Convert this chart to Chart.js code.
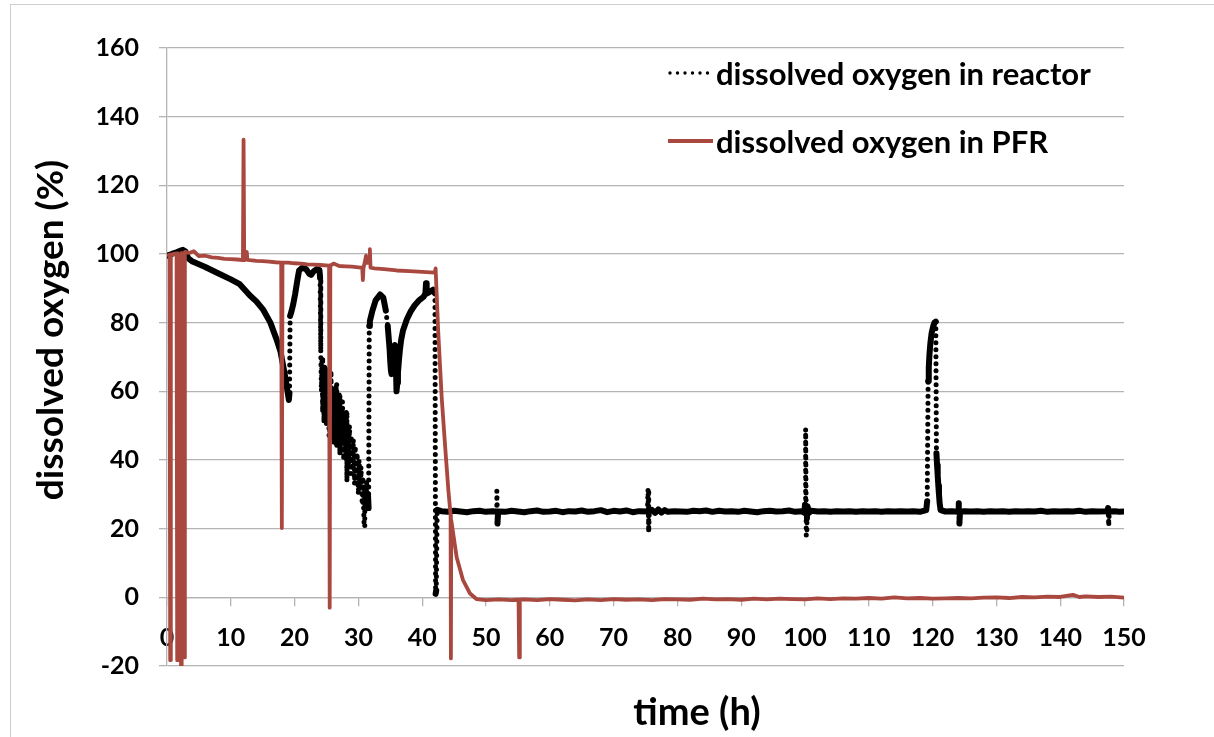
<!DOCTYPE html>
<html>
<head>
<meta charset="utf-8">
<script src="https://cdn.jsdelivr.net/npm/chart.js@4.4.1/dist/chart.umd.min.js"></script>
<style>
  html, body { margin: 0; padding: 0; background: #fff; }
  #wrap { position: relative; width: 1214px; height: 737px; overflow: hidden; }
  #frame {
    position: absolute; left: 10px; top: 4px; right: -2px; bottom: -2px;
    border-left: 1px solid #cfcfcf; border-top: 1px solid #cfcfcf;
    pointer-events: none;
  }
</style>
</head>
<body>
<div id="wrap">
  <canvas id="chart" width="1214" height="737"></canvas>
  <div id="frame"></div>
</div>
<script>
// dissolved oxygen in the reactor (%), time in h
const reactorTime = [
  0, 0.5, 1.0, 1.5, 2.0, 2.5, 2.9, 3.3, 4.0, 6.0,
  8.0, 10.0, 11.4, 13.0, 14.0, 15.1, 16.2, 17.2, 17.8, 18.2,
  18.5, 18.8, 19.1, 19.2, 19.3, 19.5, 19.8, 20.1, 20.4, 20.7,
  21.2, 21.8, 22.3, 22.6, 23.0, 23.5, 23.9, 24.0, 24.1, 24.2,
  24.3, 24.4, 24.5, 24.6, 24.7, 24.8, 24.9, 25.0, 25.1, 25.2,
  25.3, 25.4, 25.5, 25.6, 25.7, 25.8, 25.9, 26.0, 26.1, 26.2,
  26.3, 26.4, 26.5, 26.6, 26.8, 26.9, 27.0, 27.1, 27.3, 27.4,
  27.5, 27.7, 27.8, 28.0, 28.1, 28.2, 28.3, 28.5, 28.6, 28.8,
  28.9, 29.1, 29.2, 29.4, 29.5, 29.7, 29.8, 30.0, 30.1, 30.3,
  30.4, 30.6, 30.7, 30.9, 31.0, 31.1, 31.3, 31.4, 31.5, 31.6,
  31.7, 31.8, 32.2, 32.7, 33.4, 33.9, 34.3, 34.6, 34.75, 34.9,
  35.0, 35.1, 35.2, 35.35, 35.5, 35.7, 35.8, 35.9, 35.95, 36.0,
  36.1, 36.2, 36.35, 36.5, 36.7, 37.0, 37.6, 38.2, 38.8, 39.5,
  40.2, 40.5, 40.6, 40.7, 41.2, 41.7, 42.0, 42.1, 42.2, 42.35,
  43, 44, 45, 46, 47, 48, 49, 50, 51, 51.6,
  51.7, 51.8, 51.9, 53, 54, 55, 56, 57, 58, 59,
  60, 61, 62, 63, 64, 65, 66, 67, 68, 69,
  70, 71, 72, 73, 74, 75.3, 75.4, 75.5, 75.6, 76,
  76.5, 77, 77.5, 78, 78.5, 79.5, 80.5, 81.5, 82.5, 83.5,
  84.5, 85.5, 86.5, 87.5, 88.5, 89.5, 90.5, 91.5, 92.5, 93.5,
  94.5, 95.5, 96.5, 97.5, 98.5, 99.5, 99.9, 100.0, 100.1, 100.2,
  100.3, 100.4, 100.6, 101, 102, 103, 104, 105, 106, 107,
  108, 109, 110, 111, 112, 113, 114, 115, 116, 117,
  118, 119.0, 119.15, 119.3, 119.4, 119.5, 119.65, 119.85, 120.1, 120.3,
  120.5, 120.6, 120.7, 120.8, 120.9, 121.0, 121.1, 121.25, 122, 123,
  124.0, 124.1, 124.2, 124.3, 125, 126, 127, 128, 129, 130,
  131, 132, 133, 134, 135, 136, 137, 138, 139, 140,
  141, 142, 143, 144, 145, 146, 147.4, 147.5, 147.6, 147.7,
  148.5, 149.3, 150
];
const reactorDO = [
  99.5, 99.8, 100.2, 100.5, 100.9, 101.2, 100.7, 98.8, 97.8, 96.2,
  94.4, 92.6, 91.2, 87.9, 86.2, 83.7, 80.0, 75.0, 71.5, 67.5,
  64.5, 61.0, 57.5, 59.5, 82.0, 83.2, 85.5, 88.5, 92.0, 95.2,
  96.0, 95.6, 94.2, 93.9, 95.0, 95.6, 95.3, 93.0, 72, 60,
  70, 54, 66, 51, 68, 56, 64, 50, 67, 55,
  62, 47, 63, 52, 66, 46, 58, 50, 61, 45,
  57, 49, 62, 44, 56, 47, 59, 42, 55, 45,
  57, 40, 52, 43, 54, 34, 49, 39, 50, 36,
  47, 38, 46, 33, 44, 35, 42, 30, 40, 32,
  38, 27, 35, 20.5, 31, 26, 34, 27, 30, 26,
  79, 80.5, 83.5, 86.5, 88.2, 87.3, 83.5, 79, 75.5, 72,
  68.5, 66, 65, 68, 71, 73.5, 70, 66, 63, 60,
  62.5, 65.5, 69, 72, 75, 77.8, 81, 83.3, 85, 86.5,
  87.5, 88.5, 91.5, 88.5, 89, 89.6, 88.5, 1, 2, 25.5,
  25.1, 24.9, 25.2, 25.0, 24.8, 25.1, 25.2, 24.9, 25.1, 25.0,
  31, 21.5, 25, 24.9, 25.2, 25.0, 24.8, 25.1, 25.3, 24.9,
  25.0, 25.2, 24.8, 25.1, 25.0, 25.3, 24.9, 25.1, 25.4, 24.8,
  25.2, 25.0, 25.3, 24.8, 25.1, 25.0, 31.5, 19, 25, 25.5,
  24.6, 25.6, 24.7, 25.4, 24.9, 25.1, 25.0, 24.9, 25.2, 25.1,
  25.3, 24.9, 25.2, 25.0, 25.1, 24.9, 25.2, 25.0, 24.8, 25.1,
  25.2, 25.0, 25.1, 25.3, 24.9, 25.1, 24.6, 27, 49, 18,
  23, 26.5, 24.6, 25.2, 25.0, 25.1, 24.9, 25.1, 25.0, 25.1,
  24.9, 25.1, 25.0, 25.1, 24.9, 25.1, 25.0, 25.1, 25.0, 25.1,
  24.9, 25.4, 28, 63, 67, 70.5, 74, 77, 79, 80,
  80.3, 42, 38.5, 35.5, 32.5, 30, 27.5, 25.4, 25.0, 25.1,
  24.9, 27.4, 21.5, 25, 25.1, 25.0, 25.1, 24.9, 25.1, 25.0,
  25.1, 24.9, 25.1, 25.0, 25.1, 25.0, 25.2, 24.9, 25.1, 25.0,
  25.1, 25.0, 25.2, 24.9, 25.1, 25.0, 25.1, 26, 20.8, 25,
  25.1, 24.9, 25.0
];

// dissolved oxygen in the PFR (%)
const pfrTime = [
  0, 0.4, 0.5, 0.6, 1.5, 1.6, 1.7, 2.1, 2.2, 2.3, 2.6, 2.7, 2.8, 3.5, 4.2, 5, 6, 7, 8, 9, 10, 11, 11.9, 12.0,
  12.1, 12.4, 12.5, 12.6, 13, 14, 15, 16, 17, 17.9, 18.0, 18.1, 19, 20, 21, 22, 23, 24, 25.4, 25.5, 25.6, 26.1,
  27, 28, 29, 30, 30.6, 30.7, 30.8, 31.0, 31.2, 31.4, 31.7, 31.8, 31.9, 32.5, 34, 36, 38, 40, 42.0, 42.1, 42.5,
  43.05, 43.6, 44.1, 44.45, 44.5, 44.55, 45.4, 46.4, 47.5, 48.5, 50, 52, 54, 55.1, 55.2, 55.3, 56, 58, 60, 62,
  64, 66, 68, 70, 72, 74, 76, 78, 80, 82, 84, 86, 88, 90, 92, 94, 96, 98, 100, 102, 104, 106, 108, 110, 112,
  114, 116, 118, 120, 122, 124, 126, 128, 130, 132, 134, 136, 138, 140, 142, 143, 144, 146, 148, 150
];
const pfrDO = [
  99.4, 99.8, -18.3, 99.8, 100.2, -18.3, 100.2, 99.6, -20, 100.3, 99.8, -17.5, 100.6, 100.3, 100.8, 99.4, 99.5, 99.0, 98.9, 98.6, 98.5, 98.4, 98.2, 133.3,
  98.2, 98.4, 100.6, 98.3, 98.2, 98.0, 97.9, 97.8, 97.6, 97.5, 20.2, 97.5, 97.5, 97.3, 97.2, 97.0, 96.9, 96.8, 96.6, -3, 96.6, 97.2,
  96.5, 96.4, 96.3, 96.1, 96.0, 92.4, 96.0, 97.6, 99.5, 97.4, 98.0, 101.4, 96.0, 95.8, 95.6, 95.2, 95.0, 94.8, 94.6, 95.8, 77.8,
  58.4, 43.8, 31.2, 24, -17.8, 22.5, 11.7, 5.0, 1.1, -0.5, -0.8, -0.6, -0.8, -0.7, -17.5, -0.7, -0.6, -0.8, -0.5, -0.7,
  -0.9, -0.6, -0.8, -0.5, -0.7, -0.6, -0.8, -0.5, -0.6, -0.7, -0.4, -0.6, -0.5, -0.7, -0.4, -0.6, -0.4, -0.5, -0.6, -0.3, -0.5, -0.3, -0.4, -0.2, -0.4,
  0, -0.3, -0.2, -0.4, -0.3, -0.2, -0.3, -0.1, 0, -0.2, 0.1, 0, 0.2, 0.1, 0.7, 0.1, 0.3, 0.1, 0.2, -0.1
];

const xTicks = [0, 10, 20, 30, 40, 50, 60, 70, 80, 90, 100, 110, 120, 130, 140, 150];
const yTicks = [-20, 0, 20, 40, 60, 80, 100, 120, 140, 160];

const seriesNames = ["dissolved oxygen in reactor", "dissolved oxygen in PFR"];
const xTitle = "time (h)";
const yTitle = "dissolved oxygen (%)";

const BLACK = "#000000";
const RED = "#a8483f";
const GRID = "#b4b4b4";

const toPoints = (xs, ys) => xs.map((x, i) => ({ x: x, y: ys[i] }));

// long steep jumps between samples show up as separate dots
const isJump = ctx => {
  const dx = Math.abs(ctx.p1.x - ctx.p0.x);
  const dy = Math.abs(ctx.p1.y - ctx.p0.y);
  return dy > 14 && dy > 5 * dx;
};

Chart.defaults.font.family = "Lato, 'Open Sans', sans-serif";
Chart.defaults.font.weight = "bold";
Chart.defaults.color = "#000";

// legend inside the plot and the two axis titles
const annotations = {
  id: "annotations",
  afterDraw(chart) {
    const ctx = chart.ctx;
    ctx.save();
    ctx.fillStyle = "#000";

    ctx.font = "bold 31px Lato";
    ctx.textAlign = "left";
    ctx.textBaseline = "alphabetic";

    ctx.strokeStyle = BLACK;
    ctx.lineWidth = 3.4;
    ctx.lineCap = "round";
    ctx.setLineDash([0, 7.5]);
    ctx.beginPath();
    ctx.moveTo(670, 73);
    ctx.lineTo(712, 73);
    ctx.stroke();
    ctx.fillText(seriesNames[0], 716, 85);

    ctx.setLineDash([]);
    ctx.lineCap = "butt";
    ctx.strokeStyle = RED;
    ctx.lineWidth = 3.8;
    ctx.beginPath();
    ctx.moveTo(668, 141);
    ctx.lineTo(713, 141);
    ctx.stroke();
    ctx.fillText(seriesNames[1], 716, 153);

    ctx.font = "bold 38px Lato";
    ctx.textAlign = "center";
    ctx.fillText(xTitle, 697, 725);

    ctx.translate(63, 330);
    ctx.rotate(-Math.PI / 2);
    ctx.font = "bold 37px Lato";
    ctx.fillText(yTitle, 0, 0);
    ctx.restore();
  }
};

const chart = new Chart(document.getElementById("chart"), {
  type: "line",
  data: {
    datasets: [
      {
        label: seriesNames[0],
        data: toPoints(reactorTime, reactorDO),
        borderColor: BLACK,
        borderWidth: 6,
        borderCapStyle: "round",
        borderJoinStyle: "round",
        pointRadius: 0,
        tension: 0,
        order: 1,
        segment: {
          borderDash: ctx => (isJump(ctx) ? [0, 7] : undefined),
          borderWidth: ctx => (isJump(ctx) ? 5 : undefined)
        }
      },
      {
        label: seriesNames[1],
        data: toPoints(pfrTime, pfrDO),
        borderColor: RED,
        borderWidth: 3.8,
        borderJoinStyle: "round",
        pointRadius: 0,
        tension: 0,
        order: 0
      }
    ]
  },
  options: {
    responsive: false,
    animation: false,
    devicePixelRatio: 1,
    layout: { padding: { left: 0, top: 48, right: 90, bottom: 71 } },
    plugins: {
      legend: { display: false },
      tooltip: { enabled: false },
      title: { display: false }
    },
    scales: {
      x: {
        type: "linear",
        position: { y: 0 },
        min: 0,
        max: 150,
        afterBuildTicks: axis => { axis.ticks = xTicks.map(v => ({ value: v })); },
        afterFit: axis => { axis.height = 0; },
        grid: { drawOnChartArea: false, drawTicks: true, tickLength: 8, color: GRID, lineWidth: 1.3 },
        border: { display: true, color: GRID, width: 1.3 },
        ticks: { font: { size: 25, weight: "bold" }, padding: 18, maxRotation: 0, autoSkip: false }
      },
      y: {
        type: "linear",
        min: -20,
        max: 160,
        afterBuildTicks: axis => { axis.ticks = yTicks.map(v => ({ value: v })); },
        afterFit: axis => { axis.width = 167; },
        grid: { color: GRID, lineWidth: 1.3, tickLength: 8 },
        border: { display: true, color: GRID, width: 1.3 },
        ticks: { font: { size: 25, weight: "bold" }, padding: 20 }
      }
    }
  },
  plugins: [annotations]
});
</script>
</body>
</html>
